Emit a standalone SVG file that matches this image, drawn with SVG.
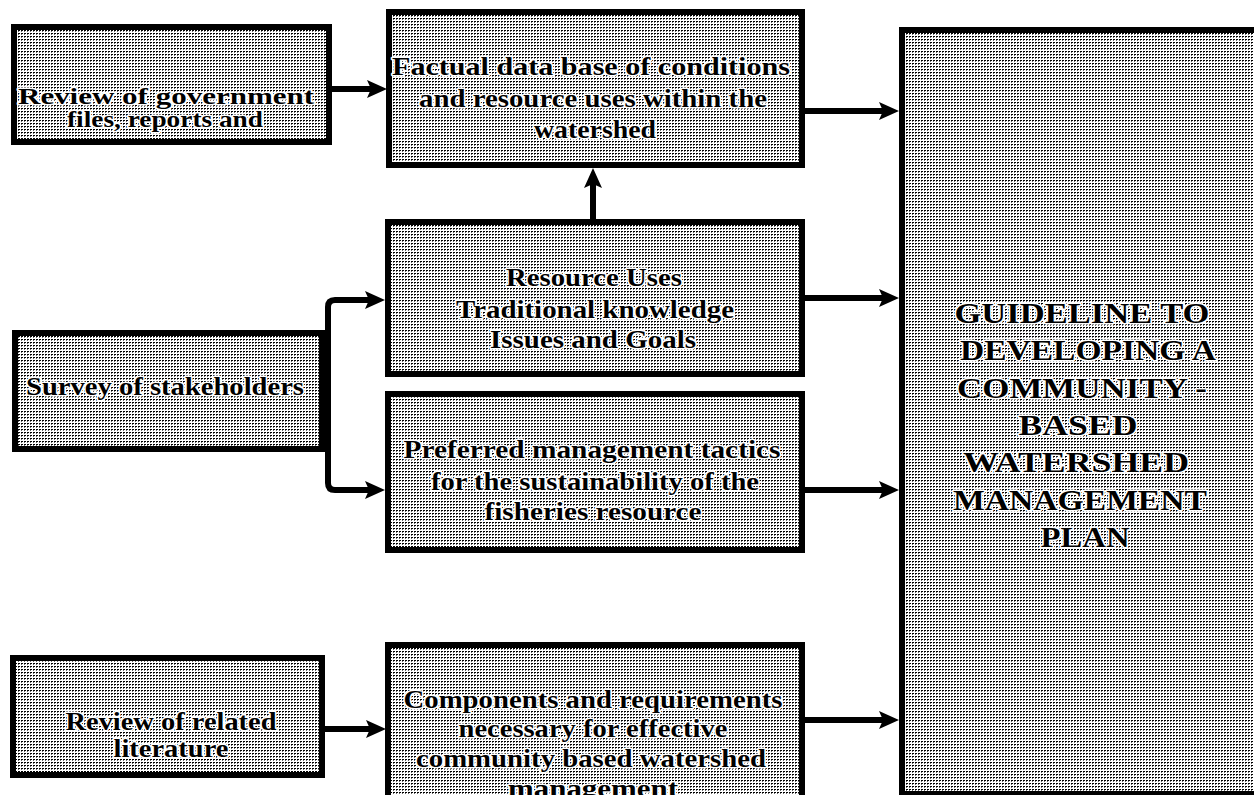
<svg xmlns="http://www.w3.org/2000/svg" width="1254" height="795" viewBox="0 0 1254 795">
<style>
.box{fill:url(#halftone);stroke:#000;stroke-width:6}
.t{font-family:"Liberation Serif","Times New Roman",serif;font-weight:bold;font-size:26px;fill:#000;stroke:#fff;stroke-width:3;stroke-linejoin:round;paint-order:stroke;text-anchor:middle}
.s{font-size:23px}
.big{font-size:30px}
.c{fill:none;stroke:#000;stroke-width:6}
</style>
<defs>
<pattern id="halftone" width="3" height="3" patternUnits="userSpaceOnUse">
<rect width="3" height="3" fill="#fff"/>
<rect x="0" y="0" width="2" height="1" fill="#000"/>
<rect x="0" y="1" width="1" height="1" fill="#666"/>
</pattern>
<marker id="ah" markerUnits="userSpaceOnUse" markerWidth="20" markerHeight="20" viewBox="0 0 20 20" refX="10" refY="10" orient="auto">
<path d="M0,1 L20,10 L0,19 L4,10 z" fill="#000"/>
</marker>
</defs>
<rect width="1254" height="795" fill="#fff"/>

<g id="guideline">
<rect class="box" x="902" y="30" width="370" height="764"/>
<text class="t big" x="1082" y="323" textLength="255" lengthAdjust="spacingAndGlyphs">GUIDELINE TO</text>
<text class="t big" x="1088" y="360" textLength="256" lengthAdjust="spacingAndGlyphs">DEVELOPING A</text>
<text class="t big" x="1082" y="398" textLength="250" lengthAdjust="spacingAndGlyphs">COMMUNITY -</text>
<text class="t big" x="1078" y="435" textLength="119" lengthAdjust="spacingAndGlyphs">BASED</text>
<text class="t big" x="1076" y="472" textLength="226" lengthAdjust="spacingAndGlyphs">WATERSHED</text>
<text class="t big" x="1080" y="510" textLength="254" lengthAdjust="spacingAndGlyphs">MANAGEMENT</text>
<text class="t big" x="1085" y="547" textLength="89" lengthAdjust="spacingAndGlyphs">PLAN</text>
</g>

<g id="review-government">
<rect class="box" x="14" y="27" width="315" height="115"/>
<text class="t s" x="166" y="104" textLength="296" lengthAdjust="spacingAndGlyphs">Review of government</text>
<text class="t s" x="165" y="127" textLength="196" lengthAdjust="spacingAndGlyphs">files, reports and</text>
</g>

<g id="factual-database">
<rect class="box" x="389" y="12" width="413" height="153"/>
<text class="t" x="591" y="75" textLength="398" lengthAdjust="spacingAndGlyphs">Factual data base of conditions</text>
<text class="t" x="593" y="107" textLength="348" lengthAdjust="spacingAndGlyphs">and resource uses within the</text>
<text class="t" x="595" y="138" textLength="122" lengthAdjust="spacingAndGlyphs">watershed</text>
</g>

<g id="resource-uses">
<rect class="box" x="388" y="222" width="414" height="152"/>
<text class="t" x="594" y="286" textLength="176" lengthAdjust="spacingAndGlyphs">Resource Uses</text>
<text class="t" x="595" y="318" textLength="278" lengthAdjust="spacingAndGlyphs">Traditional knowledge</text>
<text class="t" x="593" y="348" textLength="206" lengthAdjust="spacingAndGlyphs">Issues and Goals</text>
</g>

<g id="survey">
<rect class="box" x="15" y="333" width="307" height="116"/>
<text class="t" x="165" y="395" textLength="278" lengthAdjust="spacingAndGlyphs">Survey of stakeholders</text>
</g>

<g id="preferred-tactics">
<rect class="box" x="388" y="394" width="414" height="156"/>
<text class="t" x="592" y="458" textLength="377" lengthAdjust="spacingAndGlyphs">Preferred management tactics</text>
<text class="t" x="595" y="490" textLength="328" lengthAdjust="spacingAndGlyphs">for the sustainability of the</text>
<text class="t" x="593" y="520" textLength="217" lengthAdjust="spacingAndGlyphs">fisheries resource</text>
</g>

<g id="review-literature">
<rect class="box" x="13" y="658" width="309" height="117"/>
<text class="t" x="171" y="730" textLength="211" lengthAdjust="spacingAndGlyphs">Review of related</text>
<text class="t" x="171" y="757" textLength="115" lengthAdjust="spacingAndGlyphs">literature</text>
</g>

<g id="components">
<rect class="box" x="388" y="645" width="414" height="170"/>
<text class="t" x="593" y="708" textLength="379" lengthAdjust="spacingAndGlyphs">Components and requirements</text>
<text class="t" x="593" y="737" textLength="269" lengthAdjust="spacingAndGlyphs">necessary for effective</text>
<text class="t" x="591" y="767" textLength="350" lengthAdjust="spacingAndGlyphs">community based watershed</text>
<text class="t" x="593" y="797" textLength="170" lengthAdjust="spacingAndGlyphs">management</text>
</g>

<g id="connectors">
<path class="c" d="M332,89 H377" marker-end="url(#ah)"/>
<path class="c" d="M805,111 H889" marker-end="url(#ah)"/>
<path class="c" d="M593,219 V178" marker-end="url(#ah)"/>
<path class="c" d="M805,298 H889" marker-end="url(#ah)"/>
<path class="c" d="M805,490 H889" marker-end="url(#ah)"/>
<path class="c" d="M328,395 V307 Q328,300 335,300 H375" marker-end="url(#ah)"/>
<path class="c" d="M328,395 V483 Q328,490 335,490 H375" marker-end="url(#ah)"/>
<path class="c" d="M325,729 H376" marker-end="url(#ah)"/>
<path class="c" d="M805,720 H889" marker-end="url(#ah)"/>
</g>
</svg>
